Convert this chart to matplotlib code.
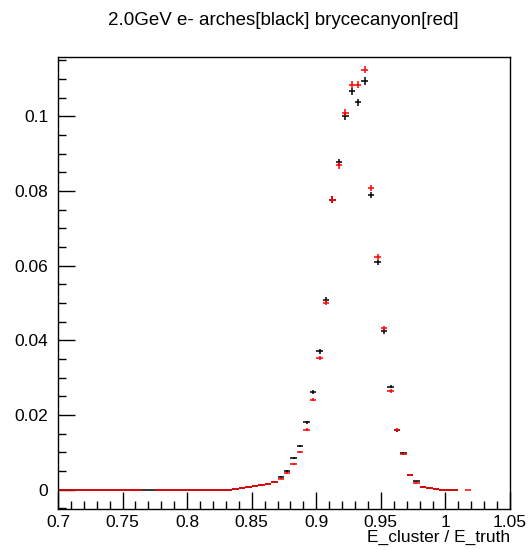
import numpy as np
import matplotlib
matplotlib.use("Agg")
import matplotlib.pyplot as plt
from matplotlib.ticker import MultipleLocator, FixedLocator, FixedFormatter

plt.rcParams['font.family'] = ['Liberation Sans', 'DejaVu Sans']

# histogram binning: 0.7 .. 1.02 in steps of 0.005
bin_width = 0.005
bin_low = 0.7
n_bins = 64

# normalised counts per bin (arches = black, brycecanyon = red)
arches = [0.0] * 27 + [
    0.0002, 0.0004, 0.0007, 0.0011, 0.0013, 0.0015, 0.0021, 0.0035, 0.0050,
    0.0084, 0.0117, 0.0181, 0.0262, 0.0370, 0.0509, 0.0777, 0.0877, 0.1000,
    0.1067, 0.1038, 0.1095, 0.0790, 0.0609, 0.0424, 0.0276, 0.0159, 0.0097,
    0.0040, 0.0022, 0.0008, 0.0003, 0.0001, 0.0, 0.0, 0.0, np.nan, np.nan]
brycecanyon = [0.0] * 13 + [np.nan, np.nan] + [0.0] * 12 + [
    0.0002, 0.0003, 0.0006, 0.0009, 0.0012, 0.0015, 0.0020, 0.0029, 0.0044,
    0.0069, 0.0100, 0.0160, 0.0241, 0.0352, 0.0501, 0.0777, 0.0869, 0.1010,
    0.1085, 0.1085, 0.1125, 0.0808, 0.0623, 0.0432, 0.0264, 0.0160, 0.0096,
    0.0039, 0.0017, 0.0007, 0.0003, 0.0001, 0.0, 0.0, 0.0, np.nan, 0.0]
n_entries = 110000  # sets size of statistical error bars

x_ticks = [0.7, 0.75, 0.8, 0.85, 0.9, 0.95, 1.0, 1.05]
x_labels = ['0.7', '0.75', '0.8', '0.85', '0.9', '0.95', '1', '1.05']
y_ticks = [0, 0.02, 0.04, 0.06, 0.08, 0.1]
y_labels = ['0', '0.02', '0.04', '0.06', '0.08', '0.1']

centers = bin_low + bin_width * (np.arange(n_bins) + 0.5)

fig = plt.figure(figsize=(5.31, 5.5), dpi=100)
ax = fig.add_axes([0.1092, 0.0745, 0.8513, 0.8219])

for vals, col in ((arches, 'black'), (brycecanyon, 'red')):
    v = np.array(vals, dtype=float)
    err = np.sqrt(np.nan_to_num(v) / n_entries)
    ax.errorbar(centers, v, xerr=bin_width / 2, yerr=err, fmt='none',
                ecolor=col, elinewidth=1.1, capsize=0)

ax.set_xlim(0.7, 1.05)
ax.set_ylim(-0.0052, 0.1159)

ax.xaxis.set_major_locator(FixedLocator(x_ticks))
ax.xaxis.set_major_formatter(FixedFormatter(x_labels))
ax.xaxis.set_minor_locator(MultipleLocator(0.01))
ax.yaxis.set_major_locator(FixedLocator(y_ticks))
ax.yaxis.set_major_formatter(FixedFormatter(y_labels))
ax.yaxis.set_minor_locator(MultipleLocator(0.005))

ax.tick_params(which='both', direction='in', top=False, right=False,
               labelsize=12.5, width=1.0, color='black')
ax.tick_params(which='major', length=12)
ax.tick_params(which='minor', length=5.5)
ax.tick_params(axis='x', which='major', pad=4)
ax.tick_params(axis='y', which='major', pad=7)

for s in ax.spines.values():
    s.set_linewidth(1.0)

ax.set_xlabel('E_cluster / E_truth', fontsize=12.5, loc='right', labelpad=0)
fig.text(0.533, 0.962, '2.0GeV e- arches[black] brycecanyon[red]',
         ha='center', va='center', fontsize=13.5)

fig.savefig('out.png', dpi=100)
